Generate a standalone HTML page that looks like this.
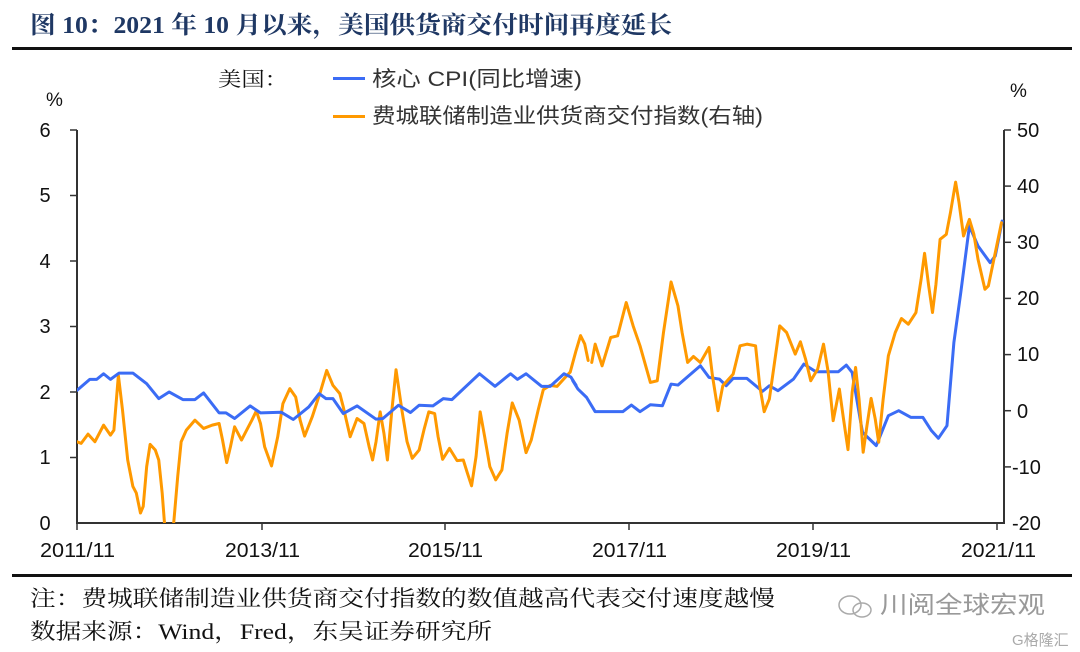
<!DOCTYPE html>
<html><head><meta charset="utf-8"><style>
html,body{margin:0;padding:0;background:#fff;}
svg{display:block;}
</style></head><body>
<svg width="1080" height="652" viewBox="0 0 1080 652" xmlns="http://www.w3.org/2000/svg" font-family="Liberation Sans, Noto Sans CJK SC, sans-serif">
<text x="30" y="33" font-family="Liberation Serif, Noto Serif CJK SC, serif" font-weight="bold" font-size="24" fill="#1f3864" textLength="642" lengthAdjust="spacingAndGlyphs">图 10：2021 年 10 月以来，美国供货商交付时间再度延长</text>
<rect x="12" y="47" width="1060" height="3" fill="#111"/>
<text x="218" y="86" font-size="20" fill="#111" font-family="Noto Serif CJK SC, serif" textLength="70" lengthAdjust="spacingAndGlyphs">美国：</text>
<rect x="333" y="77" width="32" height="3" fill="#3b6cf5"/>
<text x="372" y="86" font-size="21" fill="#333" textLength="210" lengthAdjust="spacingAndGlyphs">核心 CPI(同比增速)</text>
<rect x="333" y="115" width="32" height="3" fill="#ff9900"/>
<text x="372" y="123" font-size="21" fill="#333" textLength="391" lengthAdjust="spacingAndGlyphs">费城联储制造业供货商交付指数(右轴)</text>
<text x="46" y="106" font-size="19" fill="#111">%</text>
<text x="1010" y="97" font-size="19" fill="#111">%</text>
<g stroke="#333" stroke-width="2" fill="none">
<line x1="77" y1="130" x2="77" y2="524"/>
<line x1="1004" y1="130" x2="1004" y2="524"/>
<line x1="76" y1="523" x2="1005" y2="523"/>
</g>
<g stroke="#333" stroke-width="1.5">
<line x1="70" y1="130" x2="77" y2="130"/><line x1="70" y1="195.5" x2="77" y2="195.5"/><line x1="70" y1="261" x2="77" y2="261"/><line x1="70" y1="326.5" x2="77" y2="326.5"/><line x1="70" y1="392" x2="77" y2="392"/><line x1="70" y1="457.5" x2="77" y2="457.5"/>
<line x1="1004" y1="130" x2="1011" y2="130"/><line x1="1004" y1="186.1" x2="1011" y2="186.1"/><line x1="1004" y1="242.3" x2="1011" y2="242.3"/><line x1="1004" y1="298.4" x2="1011" y2="298.4"/><line x1="1004" y1="354.6" x2="1011" y2="354.6"/><line x1="1004" y1="410.7" x2="1011" y2="410.7"/><line x1="1004" y1="466.9" x2="1011" y2="466.9"/>
<line x1="77" y1="523" x2="77" y2="530"/><line x1="262" y1="523" x2="262" y2="530"/><line x1="445" y1="523" x2="445" y2="530"/><line x1="629" y1="523" x2="629" y2="530"/><line x1="813" y1="523" x2="813" y2="530"/><line x1="997" y1="523" x2="997" y2="530"/>
</g>
<g font-size="20" fill="#111" text-anchor="middle">
<text x="45" y="137">6</text><text x="45" y="202">5</text><text x="45" y="268">4</text><text x="45" y="333">3</text><text x="45" y="399">2</text><text x="45" y="464">1</text><text x="45" y="530">0</text>
</g>
<g font-size="20" fill="#111">
<text x="40" y="557" textLength="75" lengthAdjust="spacingAndGlyphs">2011/11</text><text x="225" y="557" textLength="75" lengthAdjust="spacingAndGlyphs">2013/11</text><text x="408" y="557" textLength="75" lengthAdjust="spacingAndGlyphs">2015/11</text><text x="592" y="557" textLength="75" lengthAdjust="spacingAndGlyphs">2017/11</text><text x="776" y="557" textLength="75" lengthAdjust="spacingAndGlyphs">2019/11</text><text x="961" y="557" textLength="75" lengthAdjust="spacingAndGlyphs">2021/11</text>
</g>
<g font-size="20" fill="#111">
<text x="1017" y="137">50</text><text x="1017" y="193">40</text><text x="1017" y="249">30</text><text x="1017" y="305">20</text><text x="1017" y="361">10</text><text x="1017" y="418">0</text><text x="1012" y="474">-10</text><text x="1012" y="530">-20</text>
</g>
<defs><clipPath id="c"><rect x="77" y="120" width="927" height="403"/></clipPath></defs>
<g clip-path="url(#c)" fill="none" stroke-linejoin="round" stroke-linecap="round">
<g transform="matrix(0.3449 0 0 0.3316 39.75 261)">
<polyline vector-effect="non-scaling-stroke" stroke="#ff9900" stroke-width="3" points="108,545 120,550 140,522 160,545 185,495 205,525 215,510 228,345 240,450 255,600 270,680 280,700 292,760 300,740 310,620 320,553 335,570 345,600 355,700 362,795 375,830 388,795 400,650 410,545 425,510 450,480 475,505 500,495 520,490 530,540 542,608 553,560 565,500 585,540 600,510 615,480 628,452 640,490 652,560 672,618 690,530 705,430 725,385 742,410 755,480 768,528 790,470 812,400 832,330 850,375 870,400 880,440 900,530 920,475 940,490 955,560 965,600 975,545 987,455 998,520 1008,600 1020,460 1033,328 1050,450 1065,545 1080,595 1100,570 1115,505 1128,455 1145,460 1155,530 1168,598 1188,565 1210,602 1228,600 1240,640 1252,678 1265,590 1277,455 1290,530 1305,620 1322,660 1340,630 1355,520 1370,428 1390,480 1410,578 1425,540 1445,450 1460,388 1480,375 1500,378 1520,355 1538,335 1555,270 1568,225 1580,250 1590,300"/>
<polyline vector-effect="non-scaling-stroke" stroke="#3b6cf5" stroke-width="3" points="108,390 145,357 165,357 185,340 205,357 230,338 270,338 310,370 345,415 375,395 415,418 450,418 475,398 520,458 540,458 565,475 610,437 640,458 700,456 735,478 780,440 810,400 830,415 850,415 880,460 920,437 975,477 995,475 1040,435 1075,457 1100,435 1140,437 1170,415 1195,418 1275,340 1320,378 1365,340 1385,357 1410,340 1455,378 1480,378 1520,340 1540,350 1555,375"/>
</g>
<g transform="matrix(0.3449 0 0 0.3327 540 159.5)">
<polyline vector-effect="non-scaling-stroke" stroke="#3b6cf5" stroke-width="3" points="95,665 110,690 135,715 160,758 240,758 265,738 290,758 320,737 355,740 380,675 400,678 465,620 490,655 520,660 540,680 560,658 600,658 645,697 665,680 690,695 735,660 765,615 800,638 865,638 888,618 905,640 935,820 975,860 1010,770 1040,755 1075,775 1110,775 1135,815 1155,838 1180,800 1200,550 1220,400 1245,200 1270,260 1305,310 1320,290 1340,185"/>
<polyline vector-effect="non-scaling-stroke" stroke="#ff9900" stroke-width="3" points="150,610 160,555 180,620 205,535 225,530 250,430 270,500 290,560 320,670 340,665 358,520 380,368 400,440 412,520 428,610 445,592 465,610 490,565 500,650 516,755 530,680 560,645 580,560 600,555 625,560 637,680 650,758 665,720 680,610 695,500 715,520 740,585 755,548 770,600 785,665 805,630 822,555 835,635 850,785 868,690 880,780 893,872 905,700 915,625 925,720 937,880 948,800 960,718 972,780 982,850 995,720 1010,590 1030,520 1048,478 1068,495 1090,460 1105,360 1115,282 1127,380 1138,460 1148,375 1160,240 1178,225 1190,160 1205,68 1215,130 1228,230 1245,180 1258,225 1270,300 1290,390 1300,380 1320,280 1338,190"/>
</g>
</g>
<rect x="12" y="574" width="1060" height="3" fill="#111"/>
<g font-family="Liberation Serif, Noto Serif CJK SC, serif" font-size="22" fill="#111">
<text x="30" y="606" textLength="745" lengthAdjust="spacingAndGlyphs">注：费城联储制造业供货商交付指数的数值越高代表交付速度越慢</text>
<text x="30" y="639" textLength="462" lengthAdjust="spacingAndGlyphs">数据来源：Wind，Fred，东吴证券研究所</text>
</g>
<g fill="none" stroke="#aaa" stroke-width="1.5"><ellipse cx="850" cy="605" rx="11" ry="9"/><ellipse cx="862" cy="610" rx="9" ry="7"/></g>
<text x="880" y="613" font-size="24" fill="#999" textLength="165" lengthAdjust="spacingAndGlyphs">川阅全球宏观</text>
<text x="1012" y="645" font-size="15" fill="#aaa">G格隆汇</text>
</svg>
</body></html>
